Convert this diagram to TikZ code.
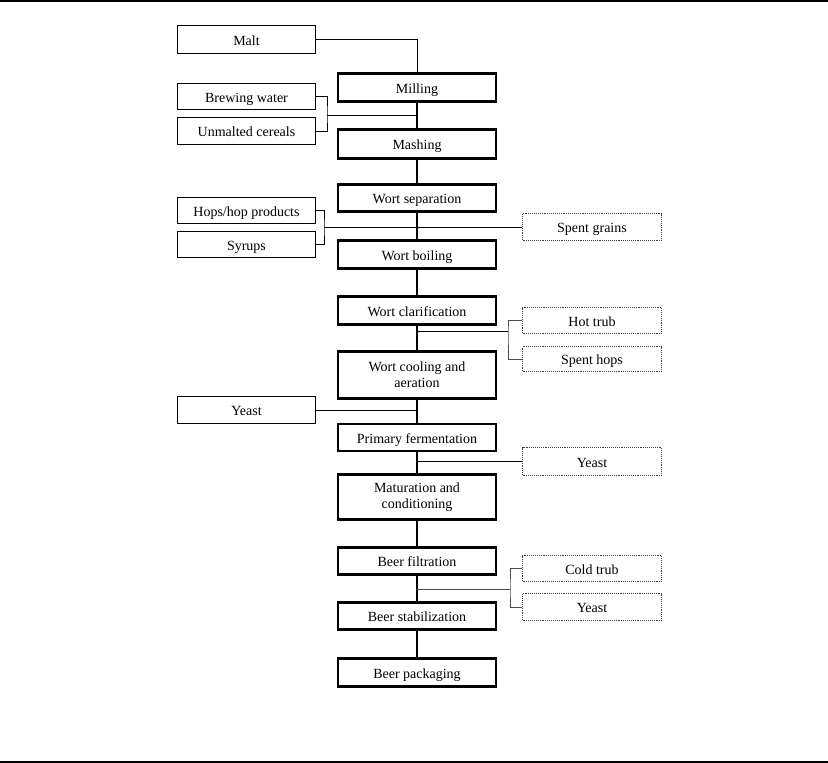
\documentclass[tikz,border=0pt]{standalone}
\usepackage{fontspec}
\setmainfont{Liberation Serif}
\begin{document}
\begin{tikzpicture}[x=1pt,y=-1pt,
 every node/.style={font=\fontsize{14}{16}\selectfont},
 oneline/.style={text height=11pt, text depth=0pt},
 mainbase/.style={draw, line width=2.8pt, minimum width=158pt, inner sep=0pt, align=center},
 mainbox/.style={mainbase, oneline},
 twoline/.style={mainbase},
 inbox/.style={draw, line width=0.9pt, minimum width=138pt, inner sep=0pt, oneline},
 outbox/.style={draw=black!75, densely dotted, line width=0.9pt, minimum width=139pt, inner sep=0pt, oneline},
 flow/.style={line width=2.8pt},
 thinline/.style={line width=0.9pt},
 greyline/.style={line width=0.9pt, draw=black!70}]
\useasboundingbox (0,0) rectangle (828,763);
\draw[line width=1.6pt] (0,1) -- (828,1);
\draw[line width=1.6pt] (0,762) -- (828,762);
% main process boxes
\node[mainbox, minimum height=28.5pt] (mill) at (417,87.5) {Milling};
\node[mainbox, minimum height=29.5pt] (mash) at (417,144) {Mashing};
\node[mainbox, minimum height=27.5pt] (sep) at (417,198) {Wort separation};
\node[mainbox, minimum height=28.5pt] (boil) at (417,254.5) {Wort boiling};
\node[mainbox, minimum height=28.5pt] (clar) at (417,310.5) {Wort clarification};
\node[twoline, minimum height=47.5pt] (cool) at (417,375) {Wort cooling and\\aeration};
\node[mainbox, minimum height=27pt] (ferm) at (417,437.5) {Primary fermentation};
\node[twoline, minimum height=45.5pt] (mat) at (417,497) {Maturation and\\conditioning};
\node[mainbox, minimum height=27.5pt] (filt) at (417,561) {Beer filtration};
\node[mainbox, minimum height=27.5pt] (stab) at (417,616) {Beer stabilization};
\node[mainbox, minimum height=28.5pt] (pack) at (417,672.5) {Beer packaging};
% inputs
\node[inbox, minimum height=28pt] (malt) at (246.5,39.5) {Malt};
\node[inbox, minimum height=26pt] (water) at (246.5,96.5) {Brewing water};
\node[inbox, minimum height=27pt] (cereal) at (246.5,131) {Unmalted cereals};
\node[inbox, minimum height=26pt] (hops) at (246.5,210.5) {Hops/hop products};
\node[inbox, minimum height=26pt] (syrup) at (246.5,244.5) {Syrups};
\node[inbox, minimum height=27pt] (yeastin) at (246.5,410) {Yeast};
% outputs
\node[outbox, minimum height=27pt] (grains) at (592,227) {Spent grains};
\node[outbox, minimum height=26pt] (hot) at (592,320.5) {Hot trub};
\node[outbox, minimum height=25pt] (shops) at (592,359) {Spent hops};
\node[outbox, minimum height=28pt] (yeastout) at (592,461.5) {Yeast};
\node[outbox, minimum height=26pt] (cold) at (592,568.5) {Cold trub};
\node[outbox, minimum height=27pt] (yeastout2) at (592,607) {Yeast};
% main flow
\draw[flow] (mill.south) -- (mash.north);
\draw[flow] (mash.south) -- (sep.north);
\draw[flow] (sep.south) -- (boil.north);
\draw[flow] (boil.south) -- (clar.north);
\draw[flow] (clar.south) -- (cool.north);
\draw[flow] (cool.south) -- (ferm.north);
\draw[flow] (ferm.south) -- (mat.north);
\draw[flow] (mat.south) -- (filt.north);
\draw[flow] (filt.south) -- (stab.north);
\draw[flow] (stab.south) -- (pack.north);
% side connectors
\draw[thinline] (malt.east) -| (mill.north);
\coordinate (bw) at (327,115);
\draw[thinline] (water.east) -| (bw) |- (cereal.east);
\draw[thinline] (bw) -- (bw -| mill.south);
\coordinate (bh) at (324,227);
\draw[thinline] (hops.east) -| (bh) |- (syrup.east);
\draw[thinline] (bh) -- (grains.west);
\coordinate (bc) at (508,331);
\draw[greyline] (hot.west) -| (bc) |- (shops.west);
\draw[thinline] (bc) -- (bc -| clar.south);
\draw[thinline] (yeastin.east) -- (yeastin.east -| ferm.north);
\draw[thinline] (yeastout.west) -- (yeastout.west -| ferm.south);
\coordinate (bt) at (510,589);
\draw[greyline] (cold.west) -| (bt) |- (yeastout2.west);
\draw[greyline] (bt) -- (bt -| filt.south);
\end{tikzpicture}
\end{document}
